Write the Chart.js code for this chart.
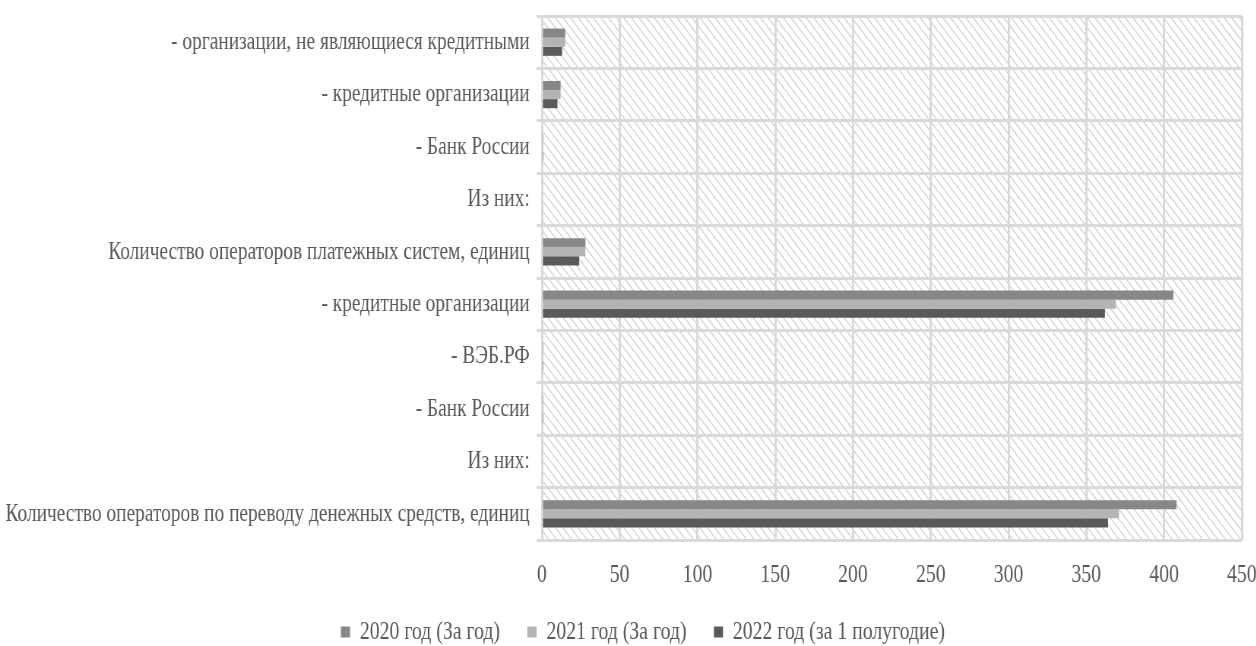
<!DOCTYPE html>
<html><head><meta charset="utf-8">
<script src="https://cdn.jsdelivr.net/npm/chart.js@4"></script>
<style>
html,body{margin:0;padding:0;background:#fff;overflow:hidden;width:1256px;height:646px;}
#wrap{position:absolute;left:0;top:0;width:1653px;height:655px;transform:scaleX(0.76);transform-origin:0 0;}
</style></head><body>
<div id="wrap"><canvas id="c" width="1653" height="655"></canvas></div>
<script>
// categories listed top-to-bottom as displayed
const categories = [
  '- организации, не являющиеся кредитными',
  '- кредитные организации',
  '- Банк России',
  'Из них:',
  'Количество операторов платежных систем, единиц',
  '- кредитные организации',
  '- ВЭБ.РФ',
  '- Банк России',
  'Из них:',
  'Количество операторов по переводу денежных средств, единиц'
];
const seriesNames = ['2020 год (За год)', '2021 год (За год)', '2022 год (за 1 полугодие)'];
const values2020 = [15, 12, 1, null, 28, 406, 1, 1, null, 408];
const values2021 = [15, 12, 1, null, 28, 369, 1, 1, null, 371];
const values2022 = [13, 10, 1, null, 24, 362, 1, 1, null, 364];
const xMin = 0, xMax = 450, xStep = 50;
const seriesColors = ['#878787', '#b4b4b4', '#5a5a5a'];

const FONT = "'Liberation Serif', 'Times New Roman', serif";
const TXT = '#595959';
const GRID = '#d9d9d9';

const hatch = {
  id: 'hatch',
  beforeDraw(chart) {
    const {ctx, chartArea: {left, right, top, bottom}} = chart;
    const h = bottom - top;
    ctx.save();
    ctx.beginPath();
    ctx.rect(left, top, right - left, h);
    ctx.clip();
    ctx.strokeStyle = '#d2d2d2';
    ctx.lineWidth = 1.4;
    ctx.beginPath();
    for (let x = left - h; x < right + 10; x += 10) {
      ctx.moveTo(x, top);
      ctx.lineTo(x + h, bottom);
    }
    ctx.stroke();
    ctx.restore();
  }
};

const legendShift = {
  id: 'legendShift',
  afterLayout(chart) {
    const lg = chart.legend;
    if (!lg) return;
    const dx = 29;
    lg.left += dx; lg.right += dx;
    if (lg.legendHitBoxes) lg.legendHitBoxes.forEach(b => { b.left += dx; });
  }
};

new Chart(document.getElementById('c'), {
  type: 'bar',
  data: {
    labels: categories,
    datasets: [
      {label: seriesNames[0], data: values2020, backgroundColor: seriesColors[0]},
      {label: seriesNames[1], data: values2021, backgroundColor: seriesColors[1]},
      {label: seriesNames[2], data: values2022, backgroundColor: seriesColors[2]}
    ]
  },
  options: {
    indexAxis: 'y',
    responsive: false,
    animation: false,
    devicePixelRatio: 1,
    layout: {padding: {top: 16, right: 19, left: 0, bottom: 0}},
    datasets: {bar: {categoryPercentage: 0.52, barPercentage: 1, borderWidth: 0}},
    scales: {
      x: {
        min: xMin, max: xMax,
        ticks: {stepSize: xStep, color: TXT, font: {family: FONT, size: 26}, padding: 20},
        grid: {color: GRID, lineWidth: 3, drawTicks: false},
        border: {display: false},
        afterFit(s) { s.height = 43; s.paddingLeft = 0; s.paddingRight = 0; }
      },
      y: {
        ticks: {color: TXT, font: {family: FONT, size: 25.5}, padding: 9},
        grid: {color: GRID, lineWidth: 3, tickLength: 7, offset: true},
        border: {display: false},
        afterFit(s) { s.width = 713; s.paddingTop = 0; s.paddingBottom = 0; }
      }
    },
    plugins: {
      legend: {
        position: 'bottom',
        labels: {color: TXT, font: {family: FONT, size: 26}, boxWidth: 12, boxHeight: 11, padding: 36}
      },
      tooltip: {enabled: false}
    }
  },
  plugins: [hatch, legendShift]
});
</script>
</body></html>
